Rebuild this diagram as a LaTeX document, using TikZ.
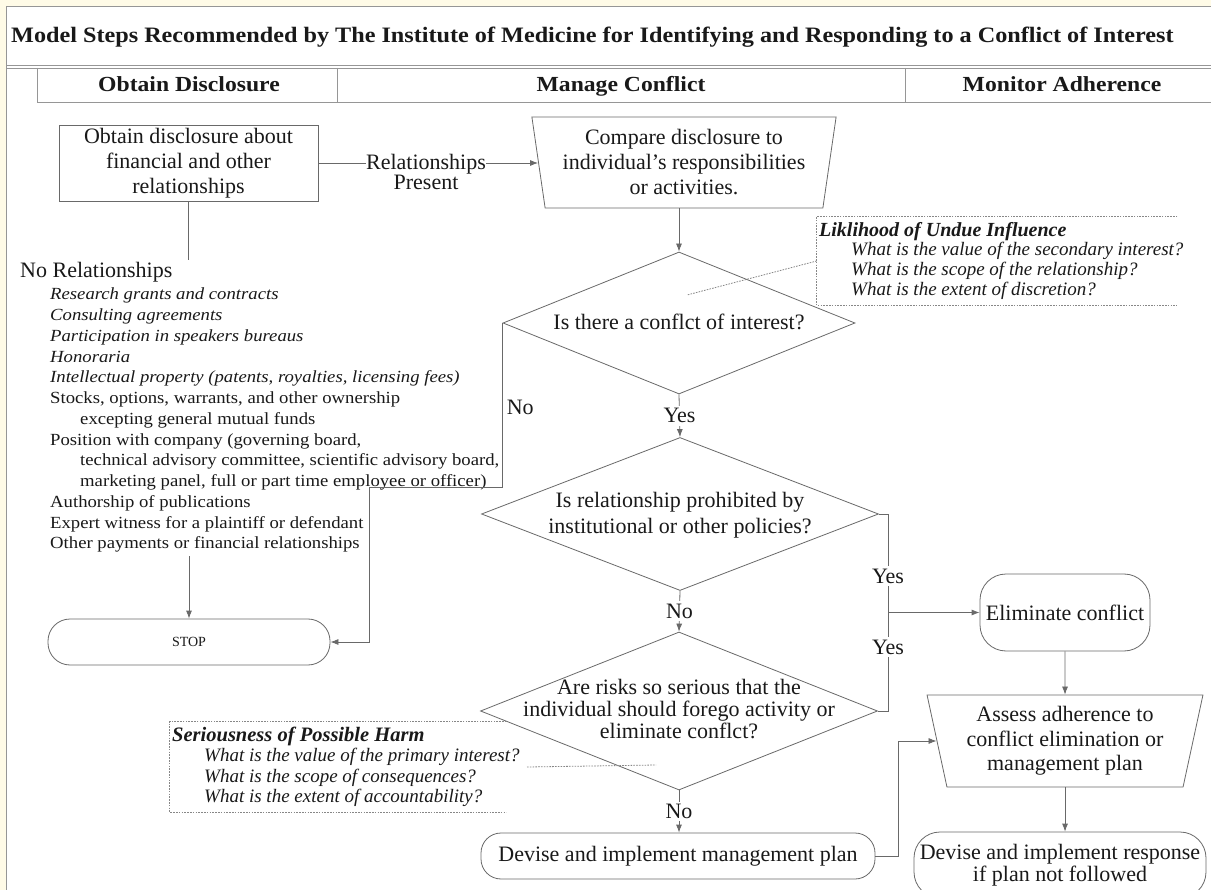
\documentclass[tikz,border=0pt]{standalone}
\usepackage{fontspec}
\setmainfont{Liberation Serif}
\newfontfamily\geo{Liberation Serif}[FakeStretch=1.1]
\usetikzlibrary{shapes.geometric,arrows.meta,calc}
\definecolor{cream}{RGB}{255,251,231}
\definecolor{framec}{RGB}{150,150,150}
\definecolor{bord}{RGB}{105,105,105}
\definecolor{txtc}{RGB}{25,25,25}
\definecolor{dotc}{RGB}{135,135,135}
\newcommand\fsz[2]{\fontsize{#1}{#2}\selectfont}
\begin{document}
\begin{tikzpicture}[x=1pt,y=-1pt,
  every node/.style={text=txtc, inner sep=0pt},
  conn/.style={draw=bord, line width=0.8pt},
  arr/.style={conn, -{Latex[length=8pt,width=6pt]}},
  shp/.style={draw=bord, line width=0.8pt, fill=white},
  big/.style={font=\fsz{22}{25}, align=center},
  hdr/.style={anchor=base, font=\geo\bfseries\fsz{21.5}{25}},
  lab/.style={font=\fsz{22}{25}, fill=white, inner sep=2.5pt},
  dia/.style={shp, diamond, inner sep=0pt},
  dotbox/.style={draw=dotc, line width=0.8pt, dash pattern=on 1.6pt off 1.2pt},
  note/.style={anchor=north west, align=left, font=\itshape\fsz{19}{19.6}},
  trap/.style={shp, trapezium, trapezium stretches=true, big}
]
% background and frame
\fill[cream] (0,0) rectangle (1211,890);
\fill[white] (6,6) rectangle (1211,890);
\useasboundingbox (0,0) rectangle (1211,890);
\draw[framec, line width=1pt] (6.5,890) -- (6.5,6.5) -- (1211,6.5);

% title
\node[anchor=base west, font=\geo\bfseries\fsz{22}{25}] (title) at (11,43)
  {Model Steps Recommended by The Institute of Medicine for Identifying and Responding to a Conflict of Interest};
\draw[framec, line width=0.9pt] (6,65.5) -- (1211,65.5);
\draw[framec, line width=0.9pt] (6,68) -- (1211,68);

% header row
\draw[framec, line width=0.9pt] (37,68) -- (37,102) -- (1211,102);
\draw[framec, line width=0.9pt] (337,68) -- (337,102);
\draw[framec, line width=0.9pt] (905,68) -- (905,102);
\node[hdr] (h1) at (189,92) {Obtain Disclosure};
\node[hdr] (h2) at (621,92) {Manage Conflict};
\node[hdr] (h3) at (1062,92) {Monitor Adherence};

% left column
\node[shp, rectangle, minimum width=259pt, minimum height=76pt, big] (box1) at (188.5,163)
  {Obtain disclosure about\\financial and other\\relationships};
\node[big, font=\fsz{22}{20}] (rp) at (426,172) {Relationships\\Present};
\node[anchor=west, font=\fsz{22}{25}] (nr) at (20,272) {No Relationships};
\coordinate (nrtop) at (189,260);
\draw[conn] (box1.south) -- (box1.south |- nrtop);

\node[anchor=north west, align=left, font=\geo\fsz{17}{20.75}] (list) at (50,288)
  {\textit{Research grants and contracts}\\
   \textit{Consulting agreements}\\
   \textit{Participation in speakers bureaus}\\
   \textit{Honoraria}\\
   \textit{Intellectual property (patents, royalties, licensing fees)}\\
   Stocks, options, warrants, and other ownership\\
   \hspace*{30pt}excepting general mutual funds\\
   Position with company (governing board,\\
   \hspace*{30pt}technical advisory committee, scientific advisory board,\\
   \hspace*{30pt}marketing panel, full or part time employee or officer)\\
   Authorship of publications\\
   Expert witness for a plaintiff or defendant\\
   Other payments or financial relationships};
\node[shp, rectangle, rounded corners=22pt, minimum width=282pt, minimum height=46pt,
  font=\fsz{14}{16}] (stop) at (189,642) {STOP};
\coordinate (lbot) at (189,556);
\draw[arr] (lbot) -- (stop.north);

% middle column
\node[trap, trapezium left angle=100, trapezium right angle=100,
  minimum width=305pt, minimum height=91pt] (trap1) at (684,162.5)
  {Compare disclosure to\\individual's responsibilities\\or activities.};
\draw[conn] (box1.east) -- (box1.east -| rp.west);
\draw[arr] (rp.east |- box1.east) -- (trap1.west |- box1.east);

\node[dia, minimum width=352pt, minimum height=142pt] (d1) at (679,323) {};
\node[big] (d1t) at (679,322) {Is there a conflct of interest?};
\draw[arr] (trap1.south -| d1.north) -- (d1.north);

\node[dia, minimum width=397pt, minimum height=153pt] (d2) at (680,514) {};
\node[big, font=\fsz{22}{26}] (d2t) at (680,515) {Is relationship prohibited by\\institutional or other policies?};
\draw[arr] (d1.south) -- node[lab] {Yes} (d2.north);

\node[dia, minimum width=397pt, minimum height=158pt] (d3) at (679,711) {};
\node[big, font=\fsz{22}{22}] (d3t) at (679,709)
  {Are risks so serious that the\\individual should forego activity or\\eliminate conflct?};
\draw[arr] (d2.south) -- node[lab] {No} (d3.north);

\node[shp, rectangle, rounded corners=20pt, minimum width=394pt, minimum height=46pt,
  font=\fsz{22}{25}] (mgmt) at (678,856) {Devise and implement management plan};
\draw[arr] (d3.south) -- node[lab] {No} (d3.south |- mgmt.north);

% No path to STOP
\coordinate (nb) at (369,487);
\draw[arr] (d1.west) -- (d1.west |- nb) -- (nb) |- (stop.east);
\node[anchor=west, font=\fsz{22}{25}] (nolab) at ($(d1.west |- nb)+(4,-80)$) {No};

% notes
\node[dotbox, draw=none, minimum width=360pt, minimum height=88pt] (lik) at (997,261) {};
\draw[dotbox] (lik.north east) -- (lik.north west) -- (lik.south west) -- (lik.south east);
\node[note] (likt) at (819,222)
  {{\bfseries\fsz{20}{19.6}Liklihood of Undue Influence}\\
   \hspace*{32pt}What is the value of the secondary interest?\\
   \hspace*{32pt}What is the scope of the relationship?\\
   \hspace*{32pt}What is the extent of discretion?};
\coordinate (likend) at (687,295);
\draw[dotbox] (lik.west) -- (likend);

\node[dotbox, draw=none, minimum width=336pt, minimum height=90pt] (ser) at (338,767) {};
\draw[dotbox] (ser.north east) -- (ser.north west) -- (ser.south west) -- (ser.south east);
\node[note, font=\itshape\fsz{19}{20.3}] (sert) at (172,727)
  {{\bfseries\fsz{20.5}{20.3}Seriousness of Possible Harm}\\
   \hspace*{32pt}What is the value of the primary interest?\\
   \hspace*{32pt}What is the scope of consequences?\\
   \hspace*{32pt}What is the extent of accountability?};
\coordinate (sera) at (527,767);
\coordinate (serb) at (656,765);
\draw[dotbox] (sera) -- (serb);

% right column
\node[shp, rectangle, rounded corners=26pt, minimum width=170pt, minimum height=77pt,
  font=\fsz{22}{25}] (elim) at (1065,612.5) {Eliminate conflict};
\coordinate (yx) at (888,600);
\draw[arr] (d2.east) -- (d2.east -| yx) -- node[lab, pos=0.63] {Yes} (yx |- elim.west) -- (elim.west);
\draw[conn] (d3.east) -- (d3.east -| yx) -- node[lab, pos=0.65] {Yes} (yx |- elim.west);

\node[trap, trapezium left angle=103.5, trapezium right angle=103.5,
  minimum width=276pt, minimum height=92pt, font=\fsz{22}{24.5}] (assess) at (1065,741)
  {Assess adherence to\\conflict elimination or\\management plan};
\draw[arr] (elim.south) -- (assess.north);

\node[shp, rectangle, rounded corners=26pt, minimum width=292pt, minimum height=66pt,
  big, font=\fsz{22}{22}] (resp) at (1060,865) {Devise and implement response\\if plan not followed};
\draw[arr] (assess.south) -- (assess.south |- resp.north);

\coordinate (mx) at (898,800);
\draw[arr] (mgmt.east) -- (mgmt.east -| mx) |- (assess.west);
\end{tikzpicture}
\end{document}
